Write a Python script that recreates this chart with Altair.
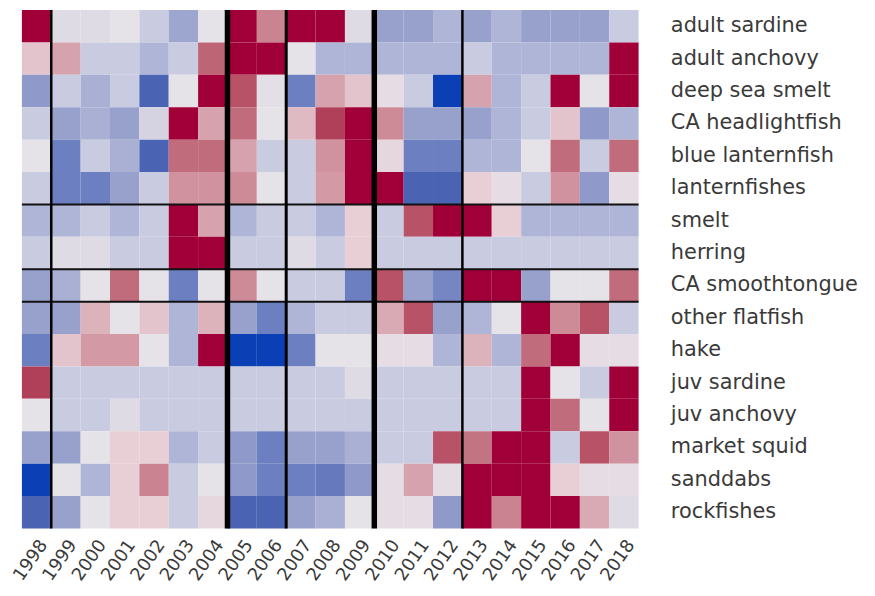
import altair as alt
import pandas as pd

years = [str(y) for y in range(1998, 2019)]
species = ["adult sardine", "adult anchovy", "deep sea smelt", "CA headlightfish",
           "blue lanternfish", "lanternfishes", "smelt", "herring", "CA smoothtongue",
           "other flatfish", "hake", "juv sardine", "juv anchovy", "market squid",
           "sanddabs", "rockfishes"]

adult_sardine = [3, -0.1, -0.1, 0, -0.3, -0.9, 0, 3, 1.2, 3, 3, -0.1, -1.0, -1.0, -0.6, -1.0, -0.6, -1.0, -1.0, -1.0, -0.3]
adult_anchovy = [0.4, 0.8, -0.3, -0.3, -0.6, -0.3, 1.6, 3, 3, 0, -0.6, -0.6, -0.6, -0.6, -0.6, -0.3, -0.6, -0.6, -0.6, -0.6, 3]
deep_sea_smelt = [-1.1, -0.3, -0.7, -0.3, -2, 0, 3, 1.8, -0.05, -1.5, 0.8, 0.4, 0.1, -0.3, -3, 0.8, -0.6, -0.3, 3, 0, 3]
ca_headlightfish = [-0.3, -1.0, -0.7, -1.0, -0.2, 3, 0.8, 1.5, 0, 0.5, 2, 3, 1.1, -1.0, -1.0, -1.0, -0.6, -0.3, 0.4, -1.1, -0.6]
blue_lanternfish = [0, -1.5, -0.3, -0.7, -2, 1.5, 1.5, 0.8, -0.3, -0.3, 1.0, 3, 0.2, -1.5, -1.5, -0.6, -0.6, 0, 1.5, -0.3, 1.5]
lanternfishes = [-0.3, -1.5, -1.5, -1.0, -0.3, 1.0, 1.0, 1.1, 0, -0.3, 0.9, 3, 3, -2, -2, 0.3, 0.1, -0.3, 1.0, -1.1, 0.1]
smelt = [-0.6, -0.6, -0.3, -0.6, -0.3, 3, 0.8, -0.6, -0.3, -0.3, -0.6, 0.3, -0.3, 1.8, 3, 3, 0.3, -0.6, -0.6, -0.6, -0.6]
herring = [-0.3, -0.1, -0.1, -0.3, -0.3, 3, 3, -0.3, -0.3, -0.1, -0.3, 0.3, -0.3, -0.3, -0.3, -0.3, -0.3, -0.3, -0.3, -0.3, -0.3]
ca_smoothtongue = [-1.0, -0.7, 0, 1.5, 0, -1.5, 0, 1.1, 0, -0.3, -0.3, -1.5, 1.8, -1.0, -1.4, 3, 3, -1.0, 0, 0, 1.5]
other_flatfish = [-1.0, -1.0, 0.6, 0, 0.4, -0.6, 0.6, -1.0, -1.5, -0.6, -0.3, -0.3, 0.7, 1.8, -1.0, -0.6, 0, 3, 1.1, 1.8, -0.3]
hake = [-1.5, 0.4, 0.9, 0.9, 0, -0.6, 3, -3, -3, -1.5, 0, 0, 0.1, 0.1, -0.6, 0.6, -0.6, 1.5, 3, 0.1, 0.1]
juv_sardine = [2, -0.3, -0.3, -0.3, -0.3, -0.3, -0.3, -0.3, -0.3, -0.3, -0.3, -0.1, -0.3, -0.3, -0.3, -0.3, -0.3, 3, 0, -0.3, 3]
juv_anchovy = [0, -0.3, -0.3, -0.1, -0.3, -0.3, -0.3, -0.3, -0.3, -0.3, -0.3, -0.3, -0.3, -0.3, -0.3, -0.3, -0.3, 3, 1.5, 0, 3]
market_squid = [-1.0, -1.0, 0, 0.3, 0.3, -0.6, -0.3, -1.1, -1.5, -1.0, -1.0, -0.7, -0.3, -0.3, 1.8, 1.4, 3, 3, -0.3, 1.8, 1.0]
sanddabs = [-3, 0, -0.6, 0.3, 1.2, -0.3, 0, -1.1, -1.5, -1.5, -1.6, -1.1, 0.1, 0.8, 0.1, 3, 3, 3, 0.3, 0.1, 0.1]
rockfishes = [-2, -1.0, 0, 0.3, 0.3, -0.3, 0.2, -2, -2, -1.0, -0.7, 0, 0.1, 0.1, -1.1, 3, 1.2, 3, 3, 0.7, -0.1]

series = [adult_sardine, adult_anchovy, deep_sea_smelt, ca_headlightfish, blue_lanternfish,
          lanternfishes, smelt, herring, ca_smoothtongue, other_flatfish, hake, juv_sardine,
          juv_anchovy, market_squid, sanddabs, rockfishes]

# group separators
thick_breaks = ["2005", "2010"]
mid_breaks = ["2007"]
thin_breaks = ["1999", "2013"]
row_breaks = ["smelt", "CA smoothtongue", "other flatfish"]

rows = []
for sp, vals in zip(species, series):
    for yr, v in zip(years, vals):
        rows.append({"species": sp, "year": yr, "value": v})
df = pd.DataFrame(rows)

xscale = alt.Scale(domain=years, paddingInner=0, paddingOuter=0)
yscale = alt.Scale(domain=species, paddingInner=0, paddingOuter=0)

color_scale = alt.Scale(
    domain=[-3, -2, -1.5, -1, -0.6, -0.3, 0, 0.3, 0.5, 1, 1.5, 2, 3],
    range=["#0a3fb6", "#4b63b3", "#6c7fc0", "#97a1cc", "#afb5d6", "#c9cce0", "#e6e3e8",
           "#e7cfd5", "#dfbac2", "#d0929e", "#c06c7c", "#b0405a", "#a00037"],
)

heat = alt.Chart(df).mark_rect().encode(
    x=alt.X("year:O", scale=xscale,
            axis=alt.Axis(title=None, domain=False, ticks=False, labelAngle=-55,
                          labelAlign="right", labelBaseline="top", labelPadding=8,
                          labelFont="DejaVu Sans", labelFontSize=18,
                          labelColor="#3a3a3a")),
    y=alt.Y("species:N", scale=yscale,
            axis=alt.Axis(title=None, orient="right", domain=False, ticks=False,
                          labelPadding=32, labelLimit=400, labelFont="DejaVu Sans",
                          labelFontSize=21, labelColor="#3a3a3a")),
    color=alt.Color("value:Q", scale=color_scale, legend=None),
)

def vrules(vals, w):
    return alt.Chart(pd.DataFrame({"year": vals})).mark_rule(color="black", strokeWidth=w).encode(
        x=alt.X("year:O", scale=xscale, bandPosition=0)
    )

hr = alt.Chart(pd.DataFrame({"species": row_breaks})).mark_rule(color="#111111", strokeWidth=2).encode(
    y=alt.Y("species:N", scale=yscale, bandPosition=0)
)

chart = alt.layer(heat, hr, vrules(thin_breaks, 2.5), vrules(mid_breaks, 3), vrules(thick_breaks, 5.5)).properties(
    width=621, height=522,
    autosize=alt.AutoSizeParams(type="none"),
    padding={"left": 14, "top": 0, "right": 230, "bottom": 70},
).configure_view(stroke=None)

chart.save("out.html", embed_options={"renderer": "svg", "actions": False})
